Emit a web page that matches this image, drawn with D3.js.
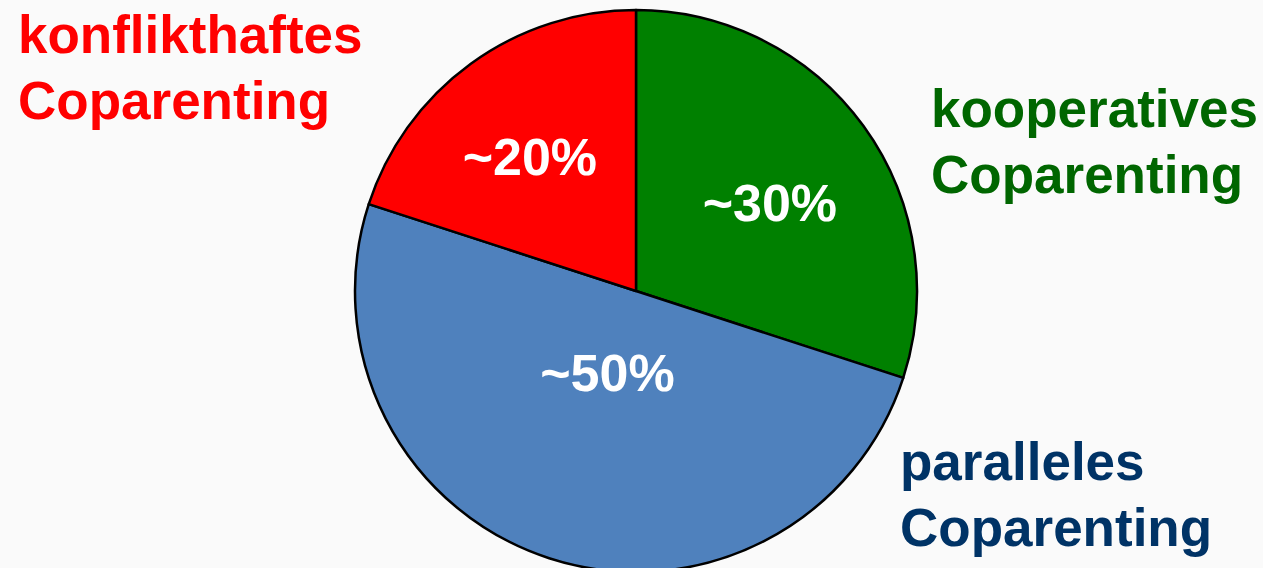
<!DOCTYPE html>
<html>
<head>
<meta charset="utf-8">
<script src="https://cdn.jsdelivr.net/npm/d3@7"></script>
<style>
  html, body { margin: 0; padding: 0; background: #fafafa; }
  svg { display: block; }
  text { font-family: "Liberation Sans", Arial, sans-serif; font-weight: bold; }
</style>
</head>
<body>
<svg id="chart" width="1263" height="568"></svg>
<script>
// Coparenting styles and their approximate shares
const categories = ["kooperatives Coparenting", "paralleles Coparenting", "konflikthaftes Coparenting"];
const shares = [30, 50, 20];
const shareLabels = ["~30%", "~50%", "~20%"];
const sliceColors = ["#008000", "#4f81bd", "#ff0000"];
const nameColors = ["#006600", "#003366", "#ff0000"];

const W = 1263, H = 568;
const cx = 636, cy = 291, R = 281;

const svg = d3.select("#chart");
svg.append("rect").attr("width", W).attr("height", H).attr("fill", "#fafafa");

const data = categories.map((c, i) => ({ name: c, value: shares[i], label: shareLabels[i], i }));

const pie = d3.pie().value(d => d.value).sort(null);
const arcs = pie(data);
const arc = d3.arc().innerRadius(0).outerRadius(R);

const g = svg.append("g").attr("transform", `translate(${cx},${cy})`);

g.selectAll("path.slice")
  .data(arcs)
  .join("path")
  .attr("class", "slice")
  .attr("d", arc)
  .attr("fill", d => sliceColors[d.data.i])
  .attr("stroke", "#000")
  .attr("stroke-width", 2.5)
  .attr("stroke-linejoin", "round");

// placement of the percentage inside each slice:
// distance as a fraction of R, and a small turn (degrees) from the slice's mid-angle
const labelRadius = [0.57, 0.309, 0.608];
const labelTurn = [2.7, 1.2, -2.4];
g.selectAll("text.pct")
  .data(arcs)
  .join("text")
  .attr("class", "pct")
  .attr("transform", d => {
    const a = (d.startAngle + d.endAngle) / 2 + labelTurn[d.data.i] * Math.PI / 180;
    const r = R * labelRadius[d.data.i];
    return `translate(${r * Math.sin(a)},${-r * Math.cos(a)})`;
  })
  .attr("dy", "0.35em")
  .attr("text-anchor", "middle")
  .attr("fill", "#fff")
  .attr("font-size", 52)
  .text(d => d.data.label);

// category names placed beside the pie
const namePos = [
  { x: 931, y: 127 },
  { x: 900, y: 480 },
  { x: 18, y: 53 }
];
const lineGap = 66;
data.forEach(d => {
  const words = d.name.split(" ");
  const t = svg.append("text")
    .attr("x", namePos[d.i].x)
    .attr("y", namePos[d.i].y)
    .attr("fill", nameColors[d.i])
    .attr("font-size", 53);
  words.forEach((w, k) => {
    t.append("tspan")
      .attr("x", namePos[d.i].x)
      .attr("y", namePos[d.i].y + k * lineGap)
      .text(w);
  });
});
</script>
</body>
</html>
